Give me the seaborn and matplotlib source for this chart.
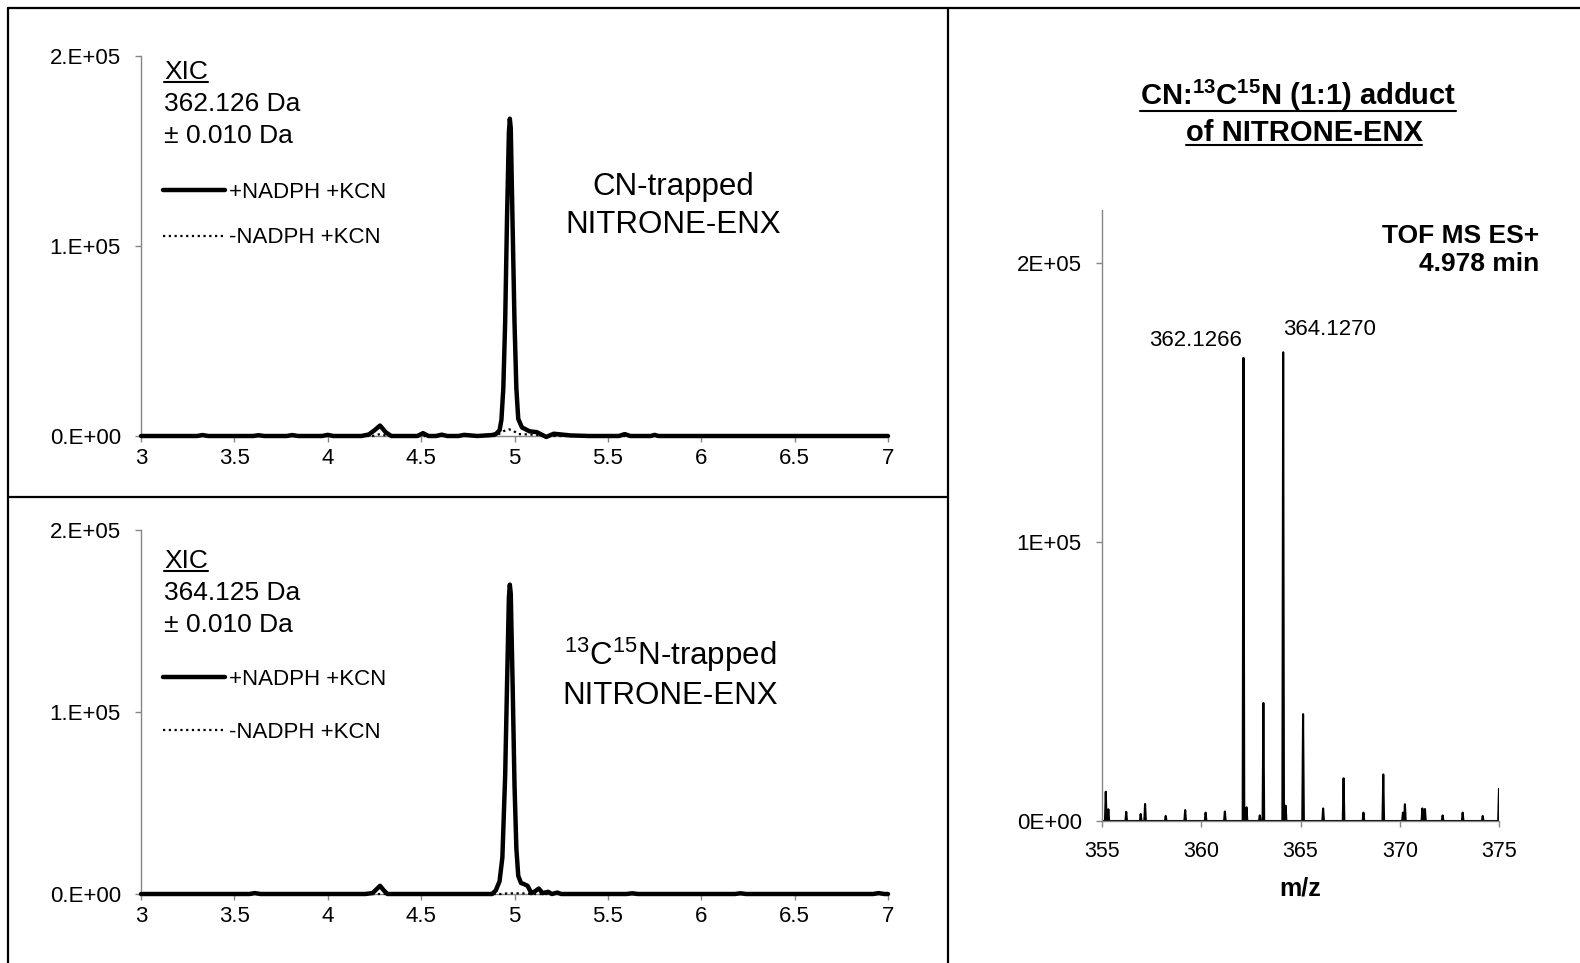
import seaborn as sns
import matplotlib.pyplot as plt
from matplotlib.lines import Line2D

sns.set_theme(style="ticks")
plt.rcParams['font.family'] = ['Liberation Sans', 'DejaVu Sans']
plt.rcParams['mathtext.default'] = 'regular'
plt.rcParams['text.color'] = 'black'
plt.rcParams['axes.labelcolor'] = 'black'

# ---- XIC traces (retention time in min, intensity in counts) ----
top_plus_t = [3.00, 3.30, 3.33, 3.36, 3.60, 3.63, 3.66, 3.78, 3.81, 3.84, 3.97, 4.00, 4.03,
              4.18, 4.22, 4.25, 4.28, 4.31, 4.34, 4.40, 4.48, 4.51, 4.54, 4.58, 4.61, 4.64,
              4.70, 4.73, 4.80, 4.88, 4.90, 4.92, 4.93, 4.94, 4.95, 4.96, 4.97, 4.975, 4.98,
              4.99, 5.00, 5.01, 5.02, 5.04, 5.08, 5.12, 5.15, 5.17, 5.21, 5.25, 5.30, 5.40,
              5.56, 5.59, 5.62, 5.73, 5.75, 5.77, 6.00, 6.50, 7.00]
top_plus_i = [0, 0, 500, 0, 0, 400, 0, 0, 500, 0, 0, 600, 0,
              0, 800, 3000, 5500, 2000, 0, 0, 0, 1500, 0, 0, 700, 0,
              0, 600, 0, 500, 1000, 3000, 8500, 25000, 60000, 115000, 160000, 167000, 162000,
              110000, 60000, 25000, 9000, 4500, 2500, 2000, 500, -500, 1200, 800, 300, 0,
              0, 1000, 0, 0, 600, 0, 0, 0, 0]
top_minus_t = [3.00, 4.24, 4.28, 4.32, 4.90, 4.94, 4.97, 4.99, 5.02, 5.08, 5.13, 5.18, 7.00]
top_minus_i = [0, 0, 1000, 0, 0, 2500, 3500, 3000, 1000, 800, 500, 0, 0]

bot_plus_t = [3.00, 3.58, 3.61, 3.64, 4.00, 4.20, 4.24, 4.26, 4.28, 4.30, 4.32, 4.40,
              4.88, 4.90, 4.92, 4.935, 4.95, 4.96, 4.97, 4.975, 4.98, 4.99, 5.00, 5.01,
              5.02, 5.035, 5.05, 5.07, 5.09, 5.11, 5.13, 5.15, 5.18, 5.20, 5.23, 5.25,
              5.60, 5.63, 5.66, 6.18, 6.21, 6.24, 6.92, 6.95, 6.98, 7.00]
bot_plus_i = [0, 0, 500, 0, 0, 0, 500, 2500, 4500, 2000, 0, 0,
              0, 2000, 7000, 20000, 65000, 115000, 163000, 170000, 165000, 115000, 60000, 25000,
              10000, 6000, 5500, 4500, 500, 1500, 3000, 500, 1200, 0, 800, 0,
              0, 400, 0, 0, 400, 0, 0, 500, 0, 0]
bot_minus_t = [3.00, 4.93, 4.96, 5.00, 5.06, 5.10, 7.00]
bot_minus_i = [0, 0, 300, 400, 300, 0, 0]

xic_ticks = [3, 3.5, 4, 4.5, 5, 5.5, 6, 6.5, 7]
xic_tick_labels = ['3', '3.5', '4', '4.5', '5', '5.5', '6', '6.5', '7']
xic_yticks = [0, 1e5, 2e5]
xic_ytick_labels = ['0.E+00', '1.E+05', '2.E+05']

# ---- mass spectrum at 4.978 min (centroid m/z, intensity) ----
peak_mz = [355.19, 355.32, 356.22, 356.95, 357.17, 358.21, 359.19, 360.22, 361.19, 362.127,
           362.28, 362.95, 363.13, 364.127, 364.25, 365.13, 366.14, 367.17, 368.17, 369.17,
           370.16, 370.26, 371.14, 371.27, 372.16, 373.17, 374.18, 375.00]
peak_int = [10500, 4200, 3300, 2500, 6100, 1800, 3900, 3000, 3400, 166000,
            4900, 2000, 42300, 168000, 5500, 38300, 4500, 15300, 3000, 16700,
            3000, 6000, 4500, 4300, 2000, 3000, 1800, 11500]
ms_xticks = [355, 360, 365, 370, 375]
ms_yticks = [0, 1e5, 2e5]
ms_ytick_labels = ['0E+00', '1E+05', '2E+05']
label_362 = '362.1266'
label_364 = '364.1270'

W, H = 1580, 963
GRAY = '#868686'


def fx(px):
    return px / W


def fy(py):
    return 1 - py / H


fig = plt.figure(figsize=(W / 100, H / 100), dpi=100)
ax_top = fig.add_axes([fx(141), fy(436), fx(747), 380 / H])
ax_bot = fig.add_axes([fx(141), fy(894), fx(747), 364 / H])
ax_ms = fig.add_axes([fx(1102), fy(821), fx(397), 611 / H])


def style_axes(ax, size, xpad):
    sns.despine(ax=ax)
    for s in ['left', 'bottom']:
        ax.spines[s].set_color(GRAY)
        ax.spines[s].set_linewidth(1.0)
    ax.tick_params(direction='out', length=4.5, width=1.0, color=GRAY,
                   labelcolor='black', labelsize=size)
    ax.tick_params(axis='y', pad=10)
    ax.tick_params(axis='x', pad=xpad)
    ax.set_xlabel('')
    ax.set_ylabel('')


for ax, (pt, pi, mt, mi) in zip(
        [ax_top, ax_bot],
        [(top_plus_t, top_plus_i, top_minus_t, top_minus_i),
         (bot_plus_t, bot_plus_i, bot_minus_t, bot_minus_i)]):
    sns.lineplot(x=mt, y=mi, ax=ax, color='black', lw=1.6, linestyle=(0, (1, 1.6)),
                 estimator=None, sort=False, label='-NADPH +KCN', zorder=3)
    sns.lineplot(x=pt, y=pi, ax=ax, color='black', lw=3.2, estimator=None, sort=False,
                 label='+NADPH +KCN', zorder=4)
    ax.set_xlim(3, 7)
    ax.set_ylim(0, 2e5)
    ax.set_xticks(xic_ticks)
    ax.set_xticklabels(xic_tick_labels)
    ax.set_yticks(xic_yticks)
    ax.set_yticklabels(xic_ytick_labels)
    for ln in ax.get_lines():
        ln.set_clip_on(False)
    style_axes(ax, 16, 4)

# legends (solid first, then dotted)
for ax, top_px, spacing in [(ax_top, 182, 1.1), (ax_bot, 669, 1.45)]:
    h, l = ax.get_legend_handles_labels()
    ax.legend(h[::-1], l[::-1], loc='upper left', bbox_to_anchor=(fx(163), fy(top_px)),
              bbox_transform=fig.transFigure, frameon=False, fontsize=16,
              handlelength=2.8, handletextpad=0.15, labelspacing=spacing,
              borderpad=0, borderaxespad=0)

# ---- spectrum profile ----
hw = 0.04
prof_x, prof_y = [355.0], [0]
for m, h in zip(peak_mz, peak_int):
    prof_x += [m - hw, m, m + hw]
    prof_y += [0, h, 0]
sns.lineplot(x=prof_x, y=prof_y, ax=ax_ms, color='black', lw=1.5, estimator=None, sort=False)
ax_ms.set_xlim(355, 375)
ax_ms.set_ylim(0, 2.19e5)
ax_ms.set_xticks(ms_xticks)
ax_ms.set_xticklabels([str(v) for v in ms_xticks])
ax_ms.set_yticks(ms_yticks)
ax_ms.set_yticklabels(ms_ytick_labels)
style_axes(ax_ms, 15.5, 10)
ax_ms.set_xlabel('m/z', fontsize=18, fontweight='bold', labelpad=10)
ax_ms.tick_params(axis='y', labelsize=16)

ax_ms.text(peak_mz[9] - 0.1, 1.685e5, label_362, ha='right', va='bottom', fontsize=16)
ax_ms.text(peak_mz[13], 1.725e5, label_364, ha='left', va='bottom', fontsize=16)

# ---- text blocks ----
texts_to_underline = []
for y0, mass in [(72, '362.126 Da'), (561, '364.125 Da')]:
    t = fig.text(fx(164), fy(y0), 'XIC', fontsize=19, va='center', ha='left')
    texts_to_underline.append(t)
    fig.text(fx(164), fy(y0 + 32), mass, fontsize=19, va='center', ha='left')
    fig.text(fx(164), fy(y0 + 64), '± 0.010 Da', fontsize=19, va='center', ha='left')

fig.text(fx(673), fy(187), 'CN-trapped', fontsize=22.5, ha='center', va='center')
fig.text(fx(673), fy(225), 'NITRONE-ENX', fontsize=22.5, ha='center', va='center')
fig.text(fx(670), fy(655), r'$^{13}$C$^{15}$N-trapped', fontsize=22.5, ha='center', va='center')
fig.text(fx(670), fy(696), 'NITRONE-ENX', fontsize=22.5, ha='center', va='center')

t1 = fig.text(fx(1298), fy(95), r'CN:$^{13}$C$^{15}$N (1:1) adduct ', fontsize=21,
              fontweight='bold', ha='center', va='center')
t2 = fig.text(fx(1304), fy(133), 'of NITRONE-ENX', fontsize=21, fontweight='bold',
              ha='center', va='center')
texts_to_underline += [t1, t2]

fig.text(fx(1539), fy(236), 'TOF MS ES+', fontsize=19, fontweight='bold', ha='right', va='center')
fig.text(fx(1539), fy(264), '4.978 min', fontsize=19, fontweight='bold', ha='right', va='center')

# ---- panel frame lines ----
frame_kw = dict(color='black', lw=1.6, transform=fig.transFigure)
fig.add_artist(Line2D([fx(8), 1.0], [fy(8), fy(8)], **frame_kw))
fig.add_artist(Line2D([fx(8), fx(8)], [fy(8), 0.0], **frame_kw))
fig.add_artist(Line2D([fx(948), fx(948)], [fy(8), 0.0], **frame_kw))
fig.add_artist(Line2D([fx(8), fx(948)], [fy(497), fy(497)], **frame_kw))

# underlines under text
fig.canvas.draw()
renderer = fig.canvas.get_renderer()
for t in texts_to_underline:
    bb = t.get_window_extent(renderer)
    y = (bb.y0 + 2) / H
    fig.add_artist(Line2D([bb.x0 / W, bb.x1 / W], [y, y], color='black', lw=1.5,
                          transform=fig.transFigure))

fig.savefig('out.png', dpi=100)
